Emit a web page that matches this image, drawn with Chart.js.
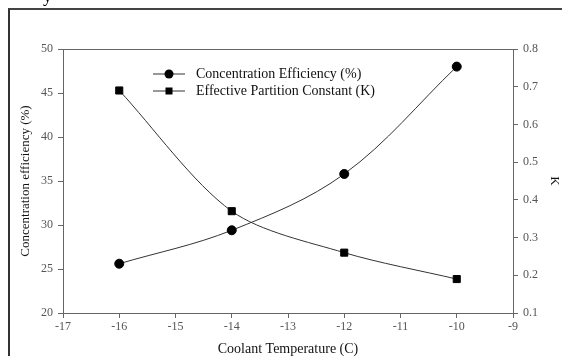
<!DOCTYPE html>
<html>
<head>
<meta charset="utf-8">
<script src="https://cdn.jsdelivr.net/npm/chart.js@4"></script>
<style>
  body { margin: 0; background: #fff; overflow: hidden; }
  #wrap { position: relative; width: 562px; height: 356px; }
  #frame { position: absolute; left: 8px; top: 8px; width: 600px; height: 400px;
           border-left: 2px solid #333; border-top: 2px solid #444; }
  #stub { position: absolute; left: 43px; top: -14px; font: 18px "Liberation Serif"; color: #000; }
</style>
</head>
<body>
<div id="wrap">
  <div id="frame"></div>
  <span id="stub">y</span>
  <canvas id="myChart" width="562" height="356"></canvas>
</div>
<script>
var temps = [-16, -14, -12, -10];
var efficiency = [25.6, 29.4, 35.8, 48.0];
var partitionK = [0.69, 0.37, 0.26, 0.19];

var xTicks = [-17, -16, -15, -14, -13, -12, -11, -10, -9];
var leftTicks = [20, 25, 30, 35, 40, 45, 50];
var rightTicks = [0.1, 0.2, 0.3, 0.4, 0.5, 0.6, 0.7, 0.8];

var serif = "'Liberation Serif', 'Times New Roman', serif";
var axisGray = '#666';

function pts(ys) {
  return temps.map(function (t, i) { return {x: t, y: ys[i]}; });
}

// legend with line + marker, drawn inside the plot
const lineLegend = {
  id: 'lineLegend',
  afterDraw(chart) {
    const ctx = chart.ctx;
    const rows = [
      {text: 'Concentration Efficiency (%)', style: 'circle', y: 74},
      {text: 'Effective Partition Constant (K)', style: 'rect', y: 91}
    ];
    ctx.save();
    rows.forEach(function (r) {
      ctx.strokeStyle = '#333';
      ctx.lineWidth = 1;
      ctx.beginPath();
      ctx.moveTo(153, r.y);
      ctx.lineTo(185, r.y);
      ctx.stroke();
      ctx.fillStyle = '#000';
      if (r.style === 'circle') {
        ctx.beginPath();
        ctx.arc(169, r.y, 4.5, 0, Math.PI * 2);
        ctx.fill();
      } else {
        ctx.fillRect(165.5, r.y - 3.5, 7, 7);
      }
      ctx.font = '14px ' + serif;
      ctx.textBaseline = 'middle';
      ctx.fillStyle = '#111';
      ctx.fillText(r.text, 196, r.y);
    });
    ctx.restore();
  }
};

// top edge of the plot box
const boxTop = {
  id: 'boxTop',
  afterDraw(chart) {
    const a = chart.chartArea, ctx = chart.ctx;
    ctx.save();
    ctx.strokeStyle = axisGray;
    ctx.lineWidth = 1;
    ctx.beginPath();
    ctx.moveTo(a.left, a.top + 0.5);
    ctx.lineTo(a.right, a.top + 0.5);
    ctx.stroke();
    ctx.restore();
  }
};

function fixedTicks(list) {
  return function (scale) {
    scale.ticks = list.map(function (v) { return {value: v}; });
  };
}

var ctx = document.getElementById('myChart');

const cfg = {
  type: 'line',
  data: {
    datasets: [
      {
        label: 'Concentration Efficiency (%)',
        data: pts(efficiency),
        yAxisID: 'y',
        borderColor: '#333',
        borderWidth: 1,
        tension: 0.35,
        pointStyle: 'circle',
        pointRadius: 4.5,
        pointBackgroundColor: '#000',
        pointBorderColor: '#000'
      },
      {
        label: 'Effective Partition Constant (K)',
        data: pts(partitionK),
        yAxisID: 'y1',
        borderColor: '#333',
        borderWidth: 1,
        tension: 0.3,
        pointStyle: 'rect',
        pointRadius: 5,
        pointBackgroundColor: '#000',
        pointBorderColor: '#000'
      }
    ]
  },
  options: {
    responsive: false,
    animation: false,
    layout: {padding: {left: 18, top: 49, right: 0, bottom: 0}},
    plugins: {legend: {display: false}, tooltip: {enabled: false}},
    scales: {
      x: {
        type: 'linear',
        min: -17,
        max: -9,
        afterBuildTicks: fixedTicks(xTicks),
        afterFit: function (s) { s.height = 43; },
        grid: {drawOnChartArea: false, drawTicks: true, tickLength: 5, color: axisGray},
        border: {display: true, color: axisGray},
        ticks: {color: '#555', font: {family: serif, size: 12}, padding: 2, maxRotation: 0},
        title: {display: true, text: 'Coolant Temperature (C)', color: '#111',
                font: {family: serif, size: 14}, padding: {top: 0, bottom: -2}}
      },
      y: {
        position: 'left',
        min: 20,
        max: 50,
        afterBuildTicks: fixedTicks(leftTicks),
        afterFit: function (s) { s.width = 45; },
        grid: {drawOnChartArea: false, drawTicks: true, tickLength: 5, color: axisGray},
        border: {display: true, color: axisGray},
        ticks: {color: '#555', font: {family: serif, size: 12}, padding: 5},
        title: {display: true, text: 'Concentration efficiency (%)', color: '#111',
                font: {family: serif, size: 13}, padding: {top: 0, bottom: 4}}
      },
      y1: {
        position: 'right',
        min: 0.1,
        max: 0.8,
        afterBuildTicks: fixedTicks(rightTicks),
        afterFit: function (s) { s.width = 49; },
        grid: {drawOnChartArea: false, drawTicks: true, tickLength: 5, color: axisGray},
        border: {display: true, color: axisGray},
        ticks: {color: '#555', font: {family: serif, size: 12}, padding: 5,
                callback: function (v) { return v.toFixed(1); }},
        title: {display: true, text: 'K', color: '#111',
                font: {family: serif, size: 13}, padding: {top: 0, bottom: 4}}
      }
    }
  },
  plugins: [lineLegend, boxTop]
};

new Chart(ctx, cfg);
</script>
</body>
</html>
